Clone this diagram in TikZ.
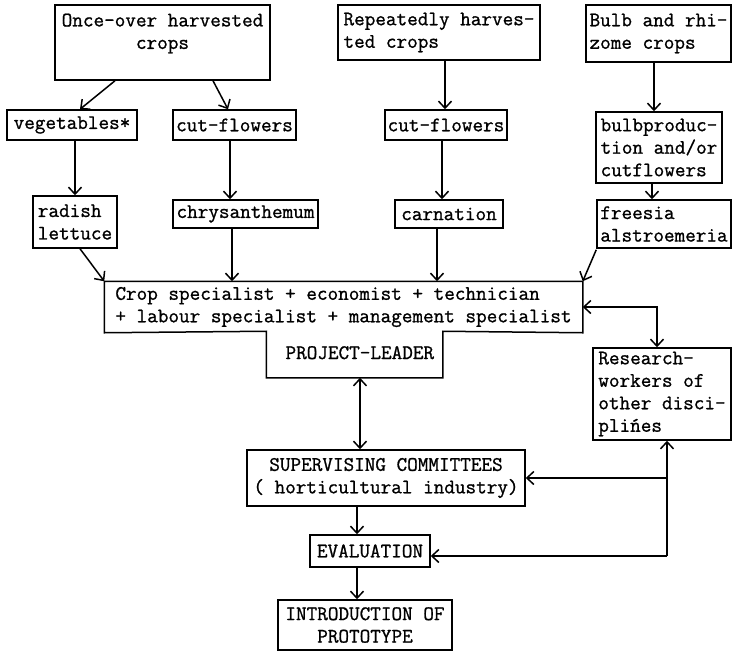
\documentclass[tikz,border=0pt]{standalone}
\usepackage{fontspec}
\newfontfamily\tw{Latin Modern Mono}[FakeBold=1]
\usetikzlibrary{arrows.meta}
\begin{document}
\begin{tikzpicture}[x=1pt,y=-1pt,
 box/.style={draw, line width=1.5pt, rectangle, inner xsep=0pt, inner ysep=0pt, font=\tw\fontsize{20.6}{22.5}\selectfont},
 plainbox/.style={box, draw=none},
 tip/.tip={Straight Barb[length=7pt,width=13pt]},
 arr/.style={line width=1.5pt, -tip},
 darr/.style={line width=1.5pt, tip-tip}]

\useasboundingbox[fill=white] (0,0) rectangle (734,654);

% top row
\node[box, minimum width=215pt, minimum height=75pt, align=center] (once) at (162.5,42.5) {Once-over harvested\\crops\\\mbox{}};
\node[box, minimum width=202pt, minimum height=55pt, align=left] (rep) at (439,32.5) {Repeatedly harves-\\ted crops};
\node[box, minimum width=145pt, minimum height=57pt, align=left] (bulb) at (658.5,33.5) {Bulb and rhi-\\zome crops};

% second row
\node[box, minimum width=130pt, minimum height=30pt, align=center] (veg) at (72,125) {vegetables*};
\node[box, minimum width=123pt, minimum height=30pt, align=center] (cf1) at (234.5,125) {cut-flowers};
\node[box, minimum width=122pt, minimum height=30pt, align=center] (cf2) at (446,125) {cut-flowers};
\node[box, minimum width=126pt, minimum height=71pt, align=left] (bp) at (659,147.5) {bulbproduc-\\tion and/or\\cutflowers};

% third row
\node[box, minimum width=84pt, minimum height=52pt, align=left] (rad) at (75,222) {radish\\lettuce};
\node[box, minimum width=145pt, minimum height=28pt, align=center] (chr) at (245.5,214) {chrysanthemum};
\node[box, minimum width=108pt, minimum height=28pt, align=center] (car) at (449,214) {carnation};
\node[box, minimum width=134pt, minimum height=48pt, align=left] (fr) at (664,224) {freesia\\alstroemeria};

% team box with project-leader tab
\node[plainbox, minimum width=477pt, minimum height=50pt, align=left] (crop) at (343.5,307) {Crop specialist + economist + technician\\+ labour specialist + management specialist};
\node[plainbox, minimum width=175pt, minimum height=45pt, align=center] (pl) at (354.5,354.5) {\strut\ PROJECT-LEADER};
\draw[line width=1.5pt] (crop.north west) -- (crop.north east) -- (crop.south east) -- (pl.north east) -- (pl.south east) -- (pl.south west) -- (pl.north west) -- (crop.south west) -- cycle;

% lower part
\node[box, minimum width=138pt, minimum height=92pt, align=left] (res) at (662,394) {Research-\\workers of\\other disci-\\plińes};
\node[box, minimum width=278pt, minimum height=56pt, align=center] (sup) at (386,478) {SUPERVISING COMMITTEES\\( horticultural industry)};
\node[box, minimum width=120pt, minimum height=32pt, align=center] (ev) at (370,551) {EVALUATION};
\node[box, minimum width=174pt, minimum height=50pt, align=center] (intro) at (365,625) {INTRODUCTION OF\\PROTOTYPE};

% connectors
\draw[arr] ([xshift=-47.5pt]once.south) -- ([xshift=8pt]veg.north);
\draw[arr] ([xshift=50.5pt]once.south) -- ([xshift=-6.5pt]cf1.north);
\draw[arr] (rad.north |- veg.south) -- (rad.north);
\draw[arr] ([xshift=-4.5pt]cf1.south) -- ([xshift=-4.5pt]cf1.south |- chr.north);
\draw[arr] ([xshift=5pt]rad.south) -- (crop.north west);
\draw[arr] ([xshift=-13.5pt]chr.south) -- ([xshift=-13.5pt]chr.south |- crop.north);
\draw[arr] ([xshift=6pt]rep.south) -- ([xshift=6pt]rep.south |- cf2.north);
\draw[arr] ([xshift=-4pt]cf2.south) -- ([xshift=-4pt]cf2.south |- car.north);
\draw[arr] ([xshift=-12pt]car.south) -- ([xshift=-12pt]car.south |- crop.north);
\draw[arr] ([xshift=-4.5pt]bulb.south) -- ([xshift=-4.5pt]bulb.south |- bp.north);
\draw[arr] ([xshift=-7pt]bp.south) -- ([xshift=-7pt]bp.south |- fr.north);
\draw[arr] ([yshift=-1pt]fr.south west) -- (crop.north east);
\draw[darr] (crop.east) -| ([xshift=-5pt]res.north);
\draw[darr] ([xshift=5.5pt]pl.south) -- ([xshift=5.5pt]pl.south |- sup.north);
\draw[arr] ([xshift=-29pt]sup.south) -- ([xshift=-29pt]sup.south |- ev.north);
\draw[arr] ([xshift=-13pt]ev.south) -- ([xshift=-13pt]ev.south |- intro.north);

\coordinate (rb) at ([xshift=5pt]res.south);
\coordinate (j1) at (rb |- sup.east);
\coordinate (j2) at ([yshift=-5pt]rb |- ev.east);
\draw[arr] (j2) -- (rb);
\draw[arr] (j1) -- (sup.east);
\draw[arr] (j2) -- ([yshift=-5pt]ev.east);
\end{tikzpicture}
\end{document}
